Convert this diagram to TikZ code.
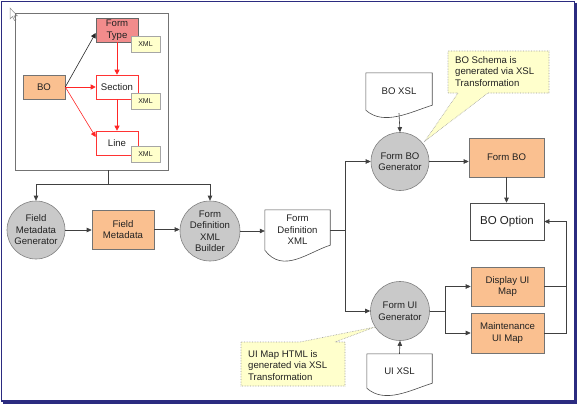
\documentclass[tikz,border=0pt]{standalone}
\usepackage{fontspec}
\setmainfont{Liberation Sans}
\usetikzlibrary{arrows.meta,calc}
\definecolor{navyb}{HTML}{2B2B80}
\definecolor{orangef}{HTML}{FAC090}
\definecolor{redf}{HTML}{F28C8C}
\definecolor{grayf}{HTML}{C9C9C9}
\definecolor{yelf}{HTML}{FFFFCC}
\definecolor{txt}{HTML}{222222}
\newcommand{\fsn}{\fontsize{9.6}{11.5}\selectfont}
\newcommand{\docpath}[2]{\draw[docline] (#1.north west) -- (#1.north east) -- ($(#1.south east)+(0,-5)$) .. controls ($(#1.south east)+(-22,2)$) and ($(#1.south west)+(18,#2)$) .. (#1.south west) -- cycle;}
\begin{document}
\begin{tikzpicture}[x=1pt,y=-1pt, font=\fsn, text=txt,
 conn/.style={draw=black!75, line width=0.6pt},
 arr/.style={conn, -{Triangle[length=5pt,width=4.5pt]}},
 redarr/.style={draw=red!85, line width=0.6pt, -{Triangle[length=5pt,width=5pt]}},
 blkarr/.style={draw=black!85, line width=0.6pt, -{Triangle[length=5pt,width=5pt]}},
 proc/.style={circle, draw=black!50, line width=0.6pt, fill=grayf, minimum size=#1, inner sep=0pt, align=center},
 obox/.style 2 args={rectangle, draw=black!55, line width=0.6pt, fill=orangef, align=center, minimum width=#1, minimum height=#2, inner sep=1pt},
 wbox/.style 2 args={rectangle, draw=black!70, line width=0.6pt, fill=white, align=center, minimum width=#1, minimum height=#2, inner sep=1pt},
 rbox/.style={rectangle, draw=red!80, line width=0.6pt, fill=white, align=center, minimum width=42pt, minimum height=24pt, inner sep=1pt},
 xmltag/.style={rectangle, draw=black!35, fill=yelf, minimum width=29pt, minimum height=16pt, inner sep=0pt, font=\fontsize{7}{8}\selectfont},
 docn/.style 2 args={rectangle, align=center, minimum width=#1, minimum height=#2, inner sep=1pt},
 docline/.style={draw=black!70, line width=0.6pt},
 callout/.style={fill=yelf, draw=black!40, densely dotted, line width=0.6pt},
 calltext/.style={anchor=north west, align=left, inner sep=0pt}
]
\useasboundingbox (0,0) rectangle (580,404);
% outer frame
\draw[navyb, line width=1.2pt] (1.5,1.5) rectangle (574.5,401);
\draw[navyb, line width=2pt] (576,3) -- (576,402.5) -- (3,402.5);
% cursor
\draw[black!45, fill=white, line width=0.5pt] (10,8) -- (10,19) -- (12.5,16.5) -- (14.5,20.5) -- (16,19.8) -- (14,16) -- (17.5,16) -- cycle;

% inner box
\node[draw=black!55, line width=0.8pt, minimum width=153pt, minimum height=157pt, inner sep=0pt] (frame) at (91.5,91.5) {};
\node[rectangle, draw=black!60, line width=0.6pt, fill=redf, align=center, minimum width=42pt, minimum height=24pt, inner sep=1pt] (ft) at (117,30) {Form\\Type};
\node[xmltag] (x1) at (145.5,44) {XML};
\node[rbox] (sec) at (117,87) {Section};
\node[xmltag] (x2) at (145.5,101) {XML};
\node[rbox] (line) at (117,143) {Line};
\node[xmltag] (x3) at (145.5,154.5) {XML};
\node[obox={42pt}{24pt}] (bo) at (44,87) {BO};
\draw[blkarr] (bo.east) -- ($(ft.west)+(0,3)$);
\draw[redarr] (bo.east) -- (sec.west);
\draw[redarr] (bo.east) -- ($(line.west)+(0,-6)$);
\draw[redarr] (ft.south) -- (sec.north);
\draw[redarr] (sec.south) -- (line.north);

% lower left chain
\node[proc=58pt] (fmg) at (36,230) {Field\\Metadata\\Generator};
\node[obox={62pt}{39pt}] (fm) at (123,229.5) {Field\\Metadata};
\node[proc=60pt] (fdb) at (210,231) {Form\\Definition\\XML\\Builder};
\node[docn={65pt}{40pt}] (fdx) at (297.5,230) {Form\\Definition\\XML};
\docpath{fdx}{24}
\coordinate (fb) at ($(frame.south)+(16.5,0)$);
\coordinate (j1) at (108,184);
\draw[conn] (fb) -- (j1);
\draw[arr] (j1) -| (fmg.north);
\draw[arr] (j1) -| (fdb.north);
\draw[arr] (fmg.east) -- (fmg.east -| fm.west);
\draw[arr] (fm.east) -- (fm.east -| fdb.west);
\draw[arr] (fdb.east) -- (fdb.east -| fdx.west);

% right part
\node[proc=58pt] (fbog) at (400,161.5) {Form BO\\Generator};
\node[docn={66pt}{37pt}] (boxsl) at (399,91.5) {BO XSL};
\docpath{boxsl}{16}
\node[obox={75pt}{39pt}] (fbo) at (506.5,157.5) {Form BO};
\node[wbox={74pt}{37pt}, font=\fontsize{11.5}{13}\selectfont] (bopt) at (507,221.5) {BO Option};
\node[proc=59pt] (fuig) at (400,311) {Form UI\\Generator};
\node[obox={73pt}{39pt}] (dui) at (507.5,286.5) {Display UI\\Map};
\node[obox={73pt}{40pt}] (mui) at (507.5,333) {Maintenance\\UI Map};
\node[docn={65pt}{34pt}] (uixsl) at (399.5,371) {UI XSL};
\docpath{uixsl}{16}

\coordinate (j2) at (345,230);
\draw[conn] (fdx.east) -- (j2);
\draw[arr] (j2) |- (fbog.west);
\draw[arr] (j2) |- (fuig.west);
\draw[arr] ($(boxsl.south)+(0,3)$) -- (fbog.north);
\draw[arr] (fbog.east) -- (fbog.east -| fbo.west);
\draw[arr] (fbo.south) -- (fbo.south |- bopt.north);
\coordinate (j3) at (445,311);
\draw[conn] (fuig.east) -- (j3);
\draw[arr] (j3) |- (dui.west);
\draw[arr] (j3) |- (mui.west);
\draw[arr] (uixsl.north) -- (fuig.south);
\coordinate (rr) at (566,0);
\draw[arr] (dui.east) -| (rr |- bopt.east) -- (bopt.east);
\draw[conn] (mui.east) -| (rr |- dui.east);

% callouts
\draw[callout] (448,51) -- (549,51) -- (549,93) -- (488,93) -- (425,141) -- (458,93) -- (448,93) -- cycle;
\node[calltext] (cs) at (455,56) {BO Schema is\\generated via XSL\\Transformation};
\draw[callout] (241,342) -- (300,342) -- (375,327) -- (335,342) -- (345,342) -- (345,386) -- (241,386) -- cycle;
\node[calltext] (cu) at (248,350) {UI Map HTML is\\generated via XSL\\Transformation};
\end{tikzpicture}
\end{document}
